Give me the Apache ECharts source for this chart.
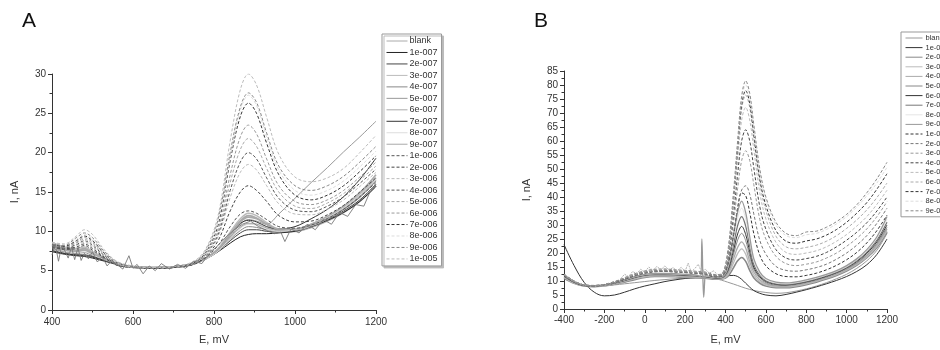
<!DOCTYPE html>
<html><head><meta charset="utf-8">
<script src="https://cdn.jsdelivr.net/npm/echarts@6/dist/echarts.min.js"></script>
<style>html,body{margin:0;padding:0;background:#fff}#c{width:940px;height:350px}</style>
</head><body><div id="c"></div>
<script>
// ---------- Panel A data ----------
const XA = [400,430,460,480,500,530,560,600,650,700,750,780,810,840,865,885,905,930,960,1000,1040,1080,1120,1160,1200];
const A_NAMES = ['blank','1e-007','2e-007','3e-007','4e-007','5e-007','6e-007','7e-007','8e-007','9e-007',
  '1e-006','2e-006','3e-006','4e-006','5e-006','6e-006','7e-006','8e-006','9e-006','1e-005'];
const aBlank = [8.2,7.6,7.5,7.8,7.2,6.5,5.9,5.5,5.4,5.5,5.9,6.5,7.6,9.6,11.3,12.0,11.7,10.9,10.1,10.0,10.5,11.3,12.4,13.8,15.8];
const a1e7 = [7.4,7.1,6.9,6.8,6.6,6.2,5.8,5.5,5.4,5.5,5.9,6.5,7.4,8.5,9.3,9.6,9.7,9.7,9.8,10.0,10.6,11.4,12.4,13.8,15.7];
const a2e7 = [7.6,7.2,7.0,6.9,6.7,6.3,5.9,5.5,5.4,5.5,5.9,6.5,7.5,8.8,9.8,10.2,10.2,10.0,9.9,10.1,10.7,11.5,12.6,14.0,16.0];
const a3e7 = [8.6,8.0,7.8,8.0,7.4,6.6,5.9,5.5,5.4,5.5,5.9,6.6,7.8,9.9,11.6,12.3,12.0,11.1,10.3,10.2,10.7,11.6,12.8,14.4,16.5];
const a4e7 = [7.8,7.4,7.2,7.3,6.9,6.4,5.9,5.5,5.4,5.5,5.9,6.5,7.5,9.0,10.1,10.6,10.5,10.2,10.0,10.2,10.8,11.7,12.8,14.3,16.4];
const a5e7 = [8.0,7.5,7.4,7.6,7.1,6.5,5.9,5.5,5.4,5.5,5.9,6.5,7.6,9.3,10.9,11.5,11.3,10.9,12.2,14.2,16.2,18.1,20.1,22.0,24.0];
const a6e7 = [8.3,7.7,7.4,7.6,7.0,6.4,5.9,5.5,5.4,5.5,5.9,6.5,7.5,9.2,10.5,11.0,10.9,10.4,10.1,10.2,10.9,11.8,13.0,14.6,16.8];
const a7e7 = [7.5,7.2,7.0,7.0,6.8,6.3,5.9,5.5,5.4,5.5,5.9,6.6,7.7,9.6,11.0,11.4,11.2,10.6,10.3,10.6,11.6,12.8,14.4,16.6,19.3];
const a8e7 = [8.0,7.5,7.3,7.4,7.0,6.4,5.9,5.5,5.4,5.5,5.9,6.5,7.5,9.1,10.4,10.9,10.8,10.3,10.0,10.2,10.9,11.8,13.0,14.6,16.6];
const a9e7 = [8.4,7.8,7.6,7.8,7.2,6.5,5.9,5.5,5.4,5.5,5.9,6.6,7.7,9.6,11.2,11.8,11.6,10.9,10.3,10.3,10.9,11.9,13.2,14.9,17.2];
const a1e6 = [7.9,7.7,7.8,8.2,7.6,6.6,5.7,5.4,5.3,5.4,5.8,6.7,8.2,10.6,12.2,12.6,12.3,11.5,10.6,10.4,10.8,11.6,12.8,14.4,16.2];
const a2e6 = [8.0,7.8,8.0,8.4,7.8,6.7,5.7,5.4,5.3,5.4,5.8,6.9,8.8,12.6,15.0,15.8,15.2,13.8,12.0,11.2,11.3,12.1,13.3,15.0,16.8];
const a3e6 = [8.2,7.9,8.2,8.6,8.0,6.8,5.8,5.4,5.3,5.4,5.9,7.0,9.3,14.3,17.5,18.5,17.8,15.8,13.5,12.2,12.1,12.8,14.0,15.7,17.5];
const a4e6 = [8.1,7.9,8.3,8.8,8.2,6.9,5.8,5.4,5.3,5.4,5.9,7.1,9.6,15.2,18.8,20.0,19.2,16.8,14.2,12.7,12.5,13.2,14.4,16.1,17.9];
const a5e6 = [8.3,8.0,8.5,9.0,8.4,7.0,5.9,5.4,5.3,5.4,5.9,7.2,9.9,16.2,20.4,21.8,20.8,18.0,15.0,13.2,12.9,13.6,14.8,16.5,18.3];
const a6e6 = [8.2,8.0,8.6,9.2,8.6,7.1,5.9,5.5,5.3,5.4,6.0,7.3,10.2,17.2,22.0,23.5,22.4,19.2,15.8,13.8,13.4,14.0,15.2,16.9,18.8];
const a7e6 = [8.3,8.1,8.8,9.4,8.8,7.2,6.0,5.5,5.3,5.4,6.0,7.4,10.8,19.0,24.6,26.3,25.0,21.2,17.2,14.6,14.0,14.6,15.8,17.6,19.6];
const a8e6 = [8.5,8.3,9.0,9.6,9.0,7.3,6.0,5.5,5.4,5.5,6.1,7.5,11.2,19.6,25.4,27.3,26.0,22.0,17.8,15.2,14.6,15.2,16.4,18.2,20.2];
const a9e6 = [8.4,8.2,9.2,9.8,9.2,7.4,6.1,5.5,5.3,5.5,6.1,7.6,11.5,20.0,25.8,27.6,26.4,22.5,18.3,15.8,15.2,15.8,17.0,18.8,20.8];
const a1e5 = [8.6,8.4,9.4,10.2,9.6,7.6,6.2,5.6,5.4,5.5,6.2,7.8,12.0,21.5,28.0,30.0,28.6,24.5,19.8,16.9,16.3,16.8,18.0,20.0,22.2];
const A_SERIES = [aBlank,a1e7,a2e7,a3e7,a4e7,a5e7,a6e7,a7e7,a8e7,a9e7,a1e6,a2e6,a3e6,a4e6,a5e6,a6e6,a7e6,a8e6,a9e6,a1e5];
// noisy trace (visible jitter of the low-concentration records in A)
const XA_N = [400,408,416,424,432,440,448,456,464,472,480,490,500,512,524,536,548,560,575,590,600,610,625,640,655,670,690,710,730,750,770,790,810,830,850,870,890,910,930,950,965,975,990,1010,1030,1050,1070,1090,1110,1130,1150,1170,1185,1200];
const aNoisy = [7.0,8.4,6.2,8.2,7.5,6.6,8.0,6.4,7.9,6.3,7.2,6.5,7.4,6.1,6.8,5.6,6.3,5.8,5.2,6.9,5.3,5.8,4.6,5.6,5.0,5.9,5.2,5.8,5.3,6.2,5.9,7.3,8.2,9.3,10.2,10.9,11.3,10.6,10.1,9.7,9.9,8.7,10.3,9.8,10.9,10.2,11.5,10.9,12.4,11.9,13.4,13.2,15.0,15.9];

// ---------- Panel B data ----------
const XB = [-400,-350,-300,-250,-200,-150,-100,-50,0,50,100,150,200,250,300,350,380,410,440,460,480,500,520,540,570,600,650,700,750,800,850,900,950,1000,1050,1100,1150,1200];
const B_NAMES = ['blank','1e-007','2e-007','3e-007','4e-007','5e-007','6e-007','7e-007','8e-007','9e-007',
  '1e-006','2e-006','3e-006','4e-006','5e-006','6e-006','7e-006','8e-006','9e-006'];
const bBlank = [11.5,9.5,8.3,8.0,8.2,8.6,9.0,9.4,9.8,10.2,10.5,10.8,11.0,11.1,11.1,10.8,10.3,9.6,8.9,8.4,7.9,7.4,7.0,6.6,6.2,5.9,5.6,5.8,6.4,7.2,8.2,9.4,10.8,12.4,14.5,17.2,21.0,27.0];
const b1e7 = [23.0,15.5,9.5,6.0,4.7,5.0,6.0,7.2,8.2,9.0,9.8,10.4,10.9,11.2,11.3,11.4,11.6,11.9,12.0,11.6,10.6,9.2,7.8,6.6,5.6,5.0,4.7,5.2,6.0,6.9,7.9,9.0,10.2,11.6,13.4,15.8,19.5,25.0];
const b2e7 = [11.0,9.2,8.2,8.0,8.3,8.9,9.6,10.5,11.3,11.6,11.6,11.5,11.3,11.2,11.0,10.6,10.6,11.5,14.8,17.2,18.4,17.0,13.8,11.2,9.2,8.2,7.6,7.6,8.0,8.7,9.6,10.7,12.0,13.6,15.6,18.3,22.0,27.5];
const b3e7 = [11.3,9.3,8.2,8.0,8.3,9.0,9.8,10.8,11.5,11.8,11.8,11.7,11.5,11.4,11.2,10.8,10.8,12.0,16.5,19.8,21.5,19.6,15.4,12.2,9.8,8.6,7.9,7.9,8.3,9.0,9.9,11.0,12.3,13.9,15.9,18.6,22.4,28.0];
const b4e7 = [11.5,9.4,8.3,8.1,8.4,9.1,10.0,11.0,11.8,12.0,12.0,11.9,11.7,11.6,11.3,10.9,11.0,12.5,18.0,22.0,24.0,21.8,17.0,13.2,10.4,9.0,8.2,8.1,8.5,9.2,10.1,11.2,12.5,14.1,16.2,19.0,22.9,28.6];
const b5e7 = [11.6,9.5,8.3,8.1,8.4,9.2,10.1,11.2,12.0,12.2,12.2,12.1,11.9,11.7,11.4,11.0,11.1,13.0,19.6,24.6,27.0,24.4,18.8,14.2,11.0,9.4,8.5,8.4,8.8,9.5,10.4,11.5,12.8,14.4,16.5,19.4,23.4,29.2];
const b6e7 = [11.8,9.6,8.4,8.2,8.5,9.3,10.2,11.3,12.1,12.4,12.4,12.3,12.1,11.9,11.6,11.1,11.2,13.5,21.0,26.8,29.5,26.6,20.4,15.0,11.5,9.8,8.8,8.6,9.0,9.7,10.6,11.7,13.0,14.7,16.9,19.9,24.0,30.0];
const b7e7 = [12.0,9.7,8.4,8.2,8.5,9.3,10.3,11.4,12.2,12.5,12.5,12.4,12.2,12.0,11.7,11.2,11.3,14.0,23.0,29.8,33.0,29.6,22.4,16.0,12.0,10.1,9.0,8.8,9.2,9.9,10.8,11.9,13.2,14.9,17.2,20.3,24.6,31.0];
const b8e7 = [12.1,9.8,8.5,8.2,8.5,9.4,10.4,11.5,12.3,12.6,12.6,12.5,12.3,12.1,11.8,11.3,11.4,14.5,25.0,32.4,36.0,32.2,24.2,17.0,12.6,10.5,9.3,9.0,9.4,10.1,11.0,12.1,13.4,15.1,17.5,20.7,25.2,32.0];
const b9e7 = [12.2,9.8,8.5,8.3,8.6,9.4,10.5,11.6,12.4,12.7,12.7,12.6,12.4,12.2,11.9,11.4,11.5,15.0,26.6,34.6,38.5,34.4,25.8,18.0,13.2,10.9,9.6,9.3,9.7,10.4,11.3,12.4,13.7,15.5,17.9,21.2,25.8,33.0];
const b1e6 = [12.0,9.7,8.4,8.2,8.6,9.4,10.6,11.9,12.8,13.3,13.4,13.2,13.0,12.7,12.4,11.5,11.7,15.6,26.5,36.0,41.5,40.5,34.5,27.0,19.2,15.4,12.6,11.6,11.5,12.0,12.8,14.0,15.6,17.6,20.2,23.6,28.0,33.5];
const b2e6 = [12.1,9.8,8.5,8.3,8.7,9.5,10.7,12.0,12.9,13.4,13.5,13.3,13.1,12.8,12.5,11.6,11.8,16.0,27.0,36.0,42.5,44.0,41.0,34.0,24.5,19.6,15.2,13.8,13.5,14.0,14.8,16.0,17.8,20.0,22.8,26.2,30.6,36.0];
const b3e6 = [12.2,9.8,8.5,8.3,8.7,9.5,10.8,12.0,13.0,13.5,13.6,13.4,13.2,12.9,12.6,11.7,11.9,16.8,31.0,43.0,53.0,56.5,53.0,44.5,32.0,25.0,18.8,16.2,15.5,16.0,16.8,18.2,20.0,22.4,25.2,28.6,33.0,38.3];
const b4e6 = [12.2,9.9,8.5,8.3,8.7,9.6,10.8,12.1,13.1,13.6,13.7,13.5,13.3,13.0,12.7,11.8,12.0,17.4,34.0,48.0,60.0,64.0,60.0,50.5,36.5,28.5,21.2,18.2,17.5,18.0,18.8,20.2,22.2,24.6,27.4,30.8,35.0,40.0];
const b5e6 = [12.3,9.9,8.5,8.3,8.7,9.6,10.9,12.2,13.2,13.7,13.8,13.6,13.4,13.1,12.8,11.9,12.1,18.0,37.0,53.0,67.5,72.0,67.5,57.0,41.5,32.2,23.8,20.2,19.5,20.0,20.8,22.2,24.2,26.6,29.6,33.0,37.4,42.4];
const b6e6 = [12.3,9.9,8.6,8.4,8.8,9.7,11.0,12.3,13.3,13.8,13.9,13.7,13.5,13.2,12.9,12.0,12.2,18.6,39.0,56.0,71.5,76.4,72.0,61.0,45.0,35.2,26.0,22.2,21.5,22.0,22.8,24.2,26.2,28.8,31.8,35.4,39.8,45.0];
const b7e6 = [12.4,10.0,8.6,8.4,8.8,9.7,11.0,12.4,13.4,13.9,14.0,13.8,13.6,13.3,13.0,12.1,12.3,19.0,40.0,57.5,73.0,78.0,73.5,62.5,46.5,37.0,28.0,24.2,23.5,24.3,25.0,26.4,28.4,31.0,34.2,38.0,42.8,48.3];
const b8e6 = [12.4,10.0,8.6,8.4,8.8,9.8,11.1,12.5,13.5,14.0,14.2,13.9,13.7,13.4,13.1,12.2,12.4,19.5,41.0,59.0,75.0,80.0,75.5,64.5,48.5,39.0,30.0,26.2,25.5,26.5,27.0,28.4,30.4,33.0,36.4,40.4,45.0,50.6];
const b9e6 = [12.5,10.0,8.6,8.4,8.8,9.8,11.2,12.6,13.6,14.2,14.3,14.0,13.8,13.5,13.2,12.3,12.5,20.0,42.0,60.0,76.0,81.5,77.0,66.0,50.0,40.0,31.0,27.0,26.2,27.5,27.8,29.2,31.2,33.8,37.2,41.5,46.5,52.4];
const B_SERIES = [bBlank,b1e7,b2e7,b3e7,b4e7,b5e7,b6e7,b7e7,b8e7,b9e7,b1e6,b2e6,b3e6,b4e6,b5e6,b6e6,b7e6,b8e6,b9e6];
// spike artefact near 290 mV (belongs to the 9e-007 trace)
const spikeX = [276,283,288,292,298];
const spikeY = [11.6,25.0,11.0,4.2,11.4];
// hairy dashed trace in B between -100 and 380 mV
const XB_N = [-120,-100,-80,-60,-40,-20,0,20,40,60,80,100,120,140,160,180,200,215,230,250,265,280,300,320,340,360];
const bNoisy = [10.8,12.4,11.6,13.4,12.6,14.2,13.2,15.0,13.8,15.2,14.0,15.4,13.9,14.8,13.6,14.9,13.5,16.4,13.2,14.6,16.0,13.4,14.2,12.8,13.6,12.4];

// ---------- styles ----------
const A_COLORS = ['#aaa','#222','#444','#bbb','#888','#999','#aaa','#333','#ddd','#aaa',
  '#555','#444','#bbb','#555','#aaa','#999','#333','#ddd','#888','#bbb'];
const A_WIDTHS = [1.6,1,1,1.6,1,1,1.6,1,1,1.6, 1,1,1,1,1,1,1,1,1,1];
const B_COLORS = ['#999','#333','#888','#bbb','#aaa','#888','#333','#777','#e5e5e5','#999',
  '#333','#777','#999','#444','#bbb','#aaa','#333','#ddd','#888'];
const B_WIDTHS = [1,1,1.6,1.3,1.3,1,1,1.3,1,1.3, 1,1,1,1,1,1,1,1,1];
const FONT = 'Liberation Sans, Arial, sans-serif';

const pairs = (xs, ys) => xs.map((x, i) => [x, ys[i]]);
function withSpike(xs, ys) {
  const pts = pairs(xs, ys).concat(pairs(spikeX, spikeY));
  pts.sort((p, q) => p[0] - q[0]);
  return pts;
}

const series = [];
A_NAMES.forEach((n, i) => {
  series.push({
    name: n, type: 'line', xAxisIndex: 0, yAxisIndex: 0, symbol: 'none', smooth: 0.35,
    data: pairs(XA, A_SERIES[i]),
    lineStyle: { color: A_COLORS[i], width: A_WIDTHS[i], type: i >= 10 ? [3, 2] : 'solid' },
    itemStyle: { color: A_COLORS[i] }, silent: true, animation: false
  });
});
series.push({
  name: 'noiseA', type: 'line', xAxisIndex: 0, yAxisIndex: 0, symbol: 'none', smooth: false,
  data: pairs(XA_N, aNoisy), lineStyle: { color: '#777', width: 0.9 }, silent: true, animation: false
});
B_NAMES.forEach((n, i) => {
  series.push({
    name: 'B:' + n, type: 'line', xAxisIndex: 1, yAxisIndex: 1, symbol: 'none', smooth: 0.35,
    data: n === '9e-007' ? withSpike(XB, B_SERIES[i]) : pairs(XB, B_SERIES[i]),
    lineStyle: { color: B_COLORS[i], width: B_WIDTHS[i], type: i >= 10 ? [3, 2] : 'solid' },
    itemStyle: { color: B_COLORS[i] }, silent: true, animation: false
  });
});
series.push({
  name: 'noiseB', type: 'line', xAxisIndex: 1, yAxisIndex: 1, symbol: 'none', smooth: false,
  data: pairs(XB_N, bNoisy), lineStyle: { color: '#aaa', width: 0.9, type: [2, 1] }, silent: true, animation: false
});

const axisCommon = {
  axisLine: { show: true, onZero: false, lineStyle: { color: '#333', width: 1 } },
  axisTick: { show: true, length: 4, lineStyle: { color: '#333' } },
  minorTick: { show: true, splitNumber: 2, length: 2.5, lineStyle: { color: '#333' } },
  splitLine: { show: false },
  axisLabel: { color: '#333', fontSize: 10, fontFamily: FONT, formatter: v => String(v) },
  nameTextStyle: { color: '#333', fontSize: 11, fontFamily: FONT },
  nameLocation: 'middle'
};
const lbl = m => Object.assign({}, axisCommon.axisLabel, { margin: m });

const legendCommon = {
  orient: 'vertical', selectedMode: false, borderColor: '#999', borderWidth: 1, backgroundColor: '#fff',
  itemStyle: { opacity: 0 }, lineStyle: { width: 1 }
};

const chart = echarts.init(document.getElementById('c'), null, { renderer: 'canvas' });
chart.setOption({
  backgroundColor: '#fff',
  animation: false,
  title: [
    { text: 'A', left: 22, top: 11, padding: 0, textStyle: { fontSize: 21, fontWeight: 'normal', color: '#111', fontFamily: FONT } },
    { text: 'B', left: 534, top: 11, padding: 0, textStyle: { fontSize: 21, fontWeight: 'normal', color: '#111', fontFamily: FONT } }
  ],
  grid: [
    { left: 52, top: 74, width: 324, height: 240, containLabel: false },
    { left: 564, top: 71, width: 323, height: 241, containLabel: false }
  ],
  xAxis: [
    Object.assign({}, axisCommon, { gridIndex: 0, type: 'value', min: 400, max: 1200, interval: 200, name: 'E, mV', nameGap: 24, axisLabel: lbl(7) }),
    Object.assign({}, axisCommon, { gridIndex: 1, type: 'value', min: -400, max: 1200, interval: 200, name: 'E, mV', nameGap: 25, axisLabel: lbl(6) })
  ],
  yAxis: [
    Object.assign({}, axisCommon, { gridIndex: 0, type: 'value', min: 0, max: 30, interval: 5, name: 'I, nA', nameGap: 32, axisLabel: lbl(6) }),
    Object.assign({}, axisCommon, { gridIndex: 1, type: 'value', min: 0, max: 85, interval: 5, name: 'I, nA', nameGap: 32, axisLabel: lbl(6) })
  ],
  legend: [
    Object.assign({}, legendCommon, { data: A_NAMES, left: 382, top: 34, padding: [2, 4, 2, 4], itemWidth: 21, itemHeight: 10, itemGap: 1.47,
      shadowColor: '#bbb', shadowOffsetX: 2, shadowOffsetY: 2, shadowBlur: 0,
      textStyle: { fontSize: 9, lineHeight: 10, color: '#333', fontFamily: FONT, padding: [0, 0, 0, -3] } }),
    Object.assign({}, legendCommon, { data: B_NAMES.map(n => 'B:' + n), left: 901, top: 32, padding: [2, 4, 2, 4], itemWidth: 17, itemHeight: 8, itemGap: 1.6,
      formatter: n => n.slice(2),
      textStyle: { fontSize: 7.5, lineHeight: 8, color: '#333', fontFamily: FONT, padding: [0, 0, 0, -2] } })
  ],
  series: series
});
</script></body></html>
